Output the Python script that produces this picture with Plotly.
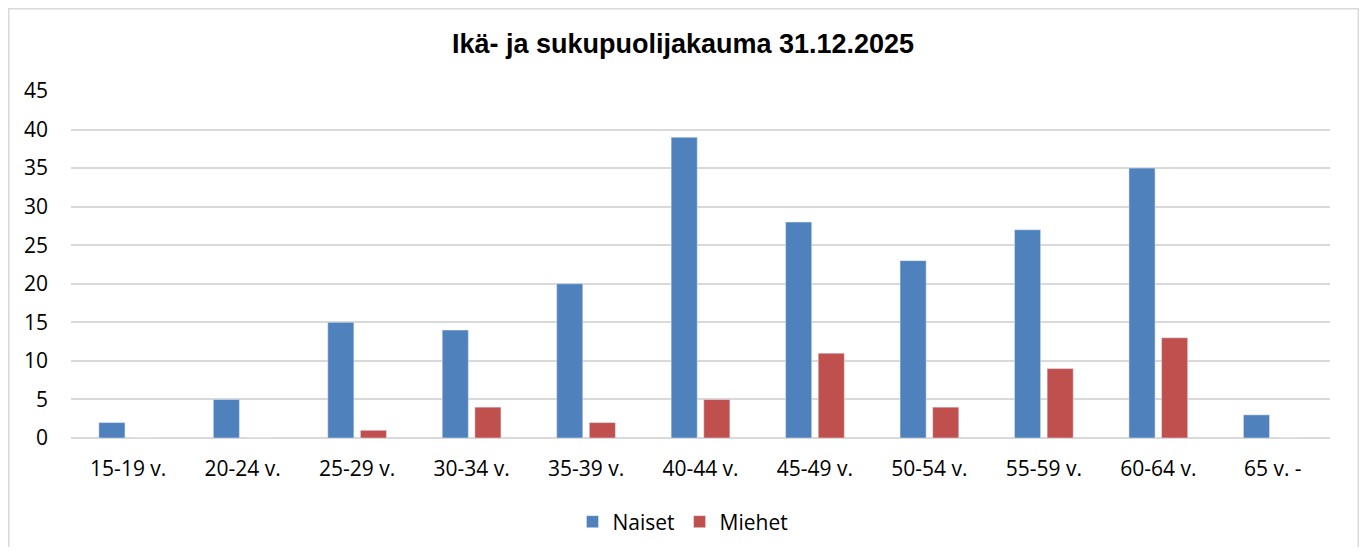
import plotly.graph_objects as go

categories = ["15-19 v.", "20-24 v.", "25-29 v.", "30-34 v.", "35-39 v.", "40-44 v.",
              "45-49 v.", "50-54 v.", "55-59 v.", "60-64 v.", "65 v. -"]
naiset = [2, 5, 15, 14, 20, 39, 28, 23, 27, 35, 3]
miehet = [0, 0, 1, 4, 2, 5, 11, 4, 9, 13, 0]
y_ticks = [0, 5, 10, 15, 20, 25, 30, 35, 40, 45]

# page body has an 8px margin; figure coordinates are shifted by OFF
OFF = 8
W, H = 1367 - 2 * OFF, 555 - 2 * OFF
L = 71 - OFF
T = 91 - OFF
R = W - (1330 - OFF)
B = H - (438 - OFF)
pw, ph = W - L - R, H - T - B

def px_x(sx):
    return (sx - OFF - L) / pw

def px_y(sy):
    return (H - B - (sy - OFF)) / ph

fig = go.Figure()
fig.add_trace(go.Bar(name="Naiset", x=categories, y=naiset, marker_color="#4F81BD"))
fig.add_trace(go.Bar(name="Miehet", x=categories, y=miehet, marker_color="#C0504D"))

font_main = "Open Sans, Noto Sans, sans-serif"

fig.update_layout(
    width=W, height=H,
    margin=dict(l=L, r=R, t=T, b=B, autoexpand=False),
    paper_bgcolor="white", plot_bgcolor="white",
    barmode="group", bargap=0.43, bargroupgap=0.2,
    title=dict(text="<b>Ikä- ja sukupuolijakauma 31.12.2025</b>",
               x=(683 - OFF) / W, xref="container", y=1 - (44 - OFF) / H, yref="container",
               xanchor="center", yanchor="middle",
               font=dict(family="Liberation Sans, Arial, sans-serif", size=27, color="#000000")),
    font=dict(family=font_main, size=21, color="#000000"),
    legend=dict(orientation="h", x=px_x(683), xanchor="center",
                y=px_y(522), yanchor="middle",
                font=dict(family=font_main, size=21, color="#000000"),
                traceorder="normal", itemwidth=30),
    xaxis=dict(showgrid=False, showline=False, ticks="", ticklabelstandoff=16,
               tickfont=dict(family=font_main, size=21)),
    yaxis=dict(range=[0, 45], tickvals=y_ticks, showgrid=True, gridcolor="#D9D9D9",
               gridwidth=1.5, zeroline=True, zerolinecolor="#D9D9D9", zerolinewidth=1.5,
               showline=False, ticks="", ticklabelstandoff=22,
               tickfont=dict(family=font_main, size=21)),
    shapes=[dict(type="rect", xref="paper", yref="paper",
                 x0=px_x(8.8), x1=px_x(1358.3),
                 y0=px_y(570), y1=px_y(8.8),
                 line=dict(color="#D9D9D9", width=1.5), fillcolor="rgba(0,0,0,0)",
                 layer="below")],
)

fig.write_html("out.html")
